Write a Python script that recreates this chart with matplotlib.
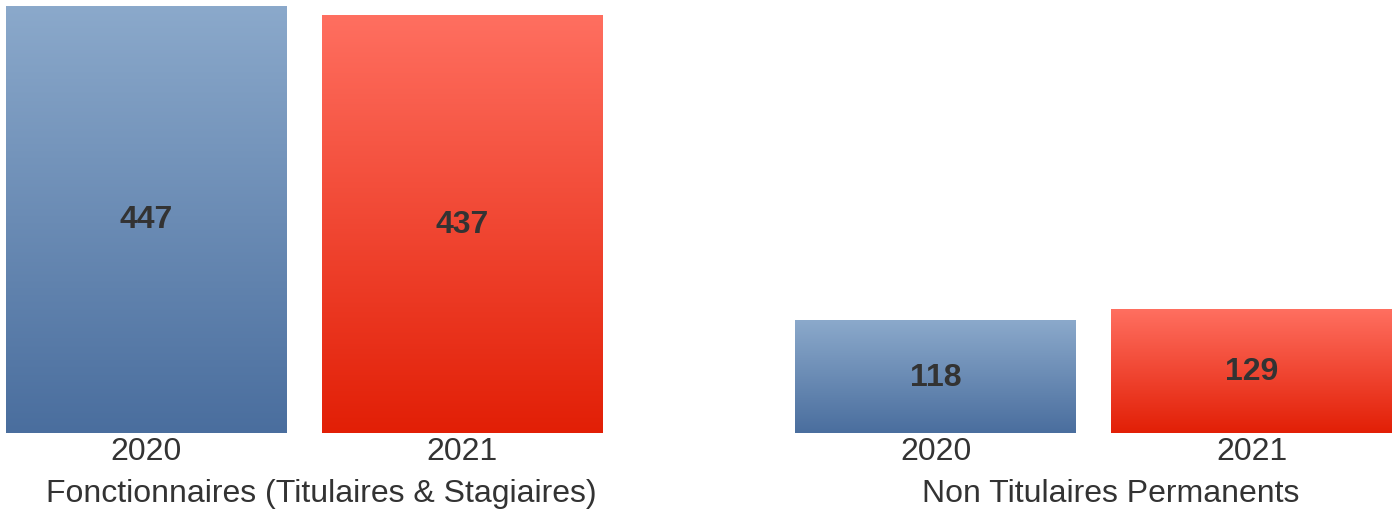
import numpy as np
import matplotlib
matplotlib.use("Agg")
import matplotlib.pyplot as plt
from matplotlib.colors import LinearSegmentedColormap
from matplotlib.transforms import blended_transform_factory

plt.rcParams['font.family'] = ['Liberation Sans', 'DejaVu Sans']

groups = ["Fonctionnaires (Titulaires & Stagiaires)", "Non Titulaires Permanents"]
years = ["2020", "2021"]
values_2020 = [447, 118]
values_2021 = [437, 129]

blue_cmap = LinearSegmentedColormap.from_list("b", ["#4A6E9E", "#8BA9CB"])
red_cmap = LinearSegmentedColormap.from_list("r", ["#E21F06", "#FF6F60"])

fig = plt.figure(figsize=(13.99, 5.15), dpi=100)
ax = fig.add_axes([6 / 1399, (515 - 433) / 515, 1386 / 1399, 427 / 515])

width = 0.889
group_pos = [0.0, 2.5]
grad = np.linspace(0, 1, 256).reshape(-1, 1)

xticks, xlabels = [], []
for gi, g in enumerate(groups):
    for yi, (vals, cmap) in enumerate([(values_2020, blue_cmap), (values_2021, red_cmap)]):
        x = group_pos[gi] + yi
        v = vals[gi]
        ax.imshow(grad, cmap=cmap, origin="lower", aspect="auto",
                  extent=[x - width / 2, x + width / 2, 0, v], interpolation="bilinear")
        ax.text(x, v / 2 - 1, str(v), ha="center", va="center", fontsize=23,
                fontweight="bold", color="#333333")
        xticks.append(x)
        xlabels.append(years[yi])

trans = blended_transform_factory(ax.transData, fig.transFigure)
for gi, g in enumerate(groups):
    ax.text(group_pos[gi] + 0.5 + 0.055, (515 - 494) / 515, g, transform=trans,
            ha="center", va="center", fontsize=23, color="#333333")

ax.set_xticks(xticks)
ax.set_xticklabels(xlabels, fontsize=23, color="#333333")
ax.tick_params(axis="x", length=0, pad=3)
ax.set_yticks([])
for s in ax.spines.values():
    s.set_visible(False)
ax.set_xlim(-width / 2, 3.5 + width / 2)
ax.set_ylim(0, 447)

fig.savefig("out.png", dpi=100)
